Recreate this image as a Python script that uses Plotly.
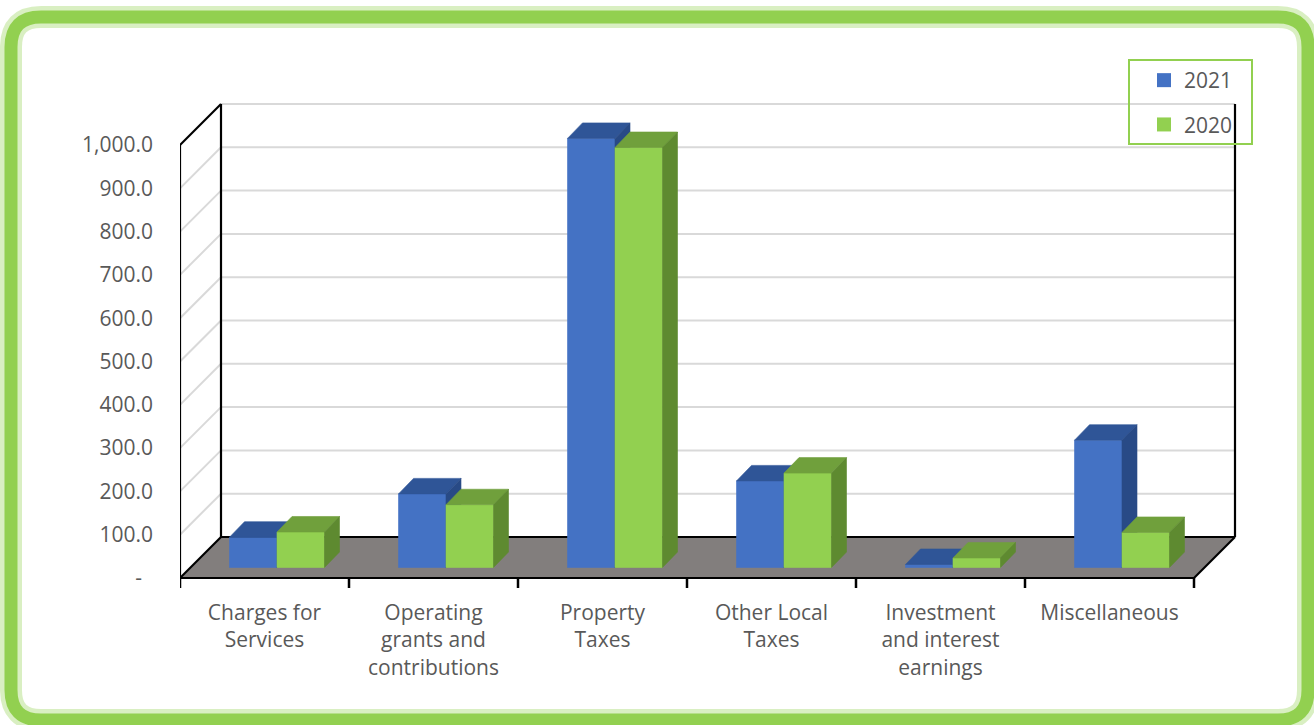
import plotly.graph_objects as go

# ---------------- data ----------------
categories = ["Charges for Services", "Operating grants and contributions", "Property Taxes",
              "Other Local Taxes", "Investment and interest earnings", "Miscellaneous"]
category_labels = ["Charges for<br>Services", "Operating<br>grants and<br>contributions", "Property<br>Taxes",
                   "Other Local<br>Taxes", "Investment<br>and interest<br>earnings", "Miscellaneous"]
series_names = ["2021", "2020"]
values_2021 = [70, 170, 991, 200, 7, 294]
values_2020 = [82, 145, 970, 218, 22, 81]
y_tick_values = [0, 100, 200, 300, 400, 500, 600, 700, 800, 900, 1000]
y_tick_labels = ["-\u00a0\u00a0", "100.0", "200.0", "300.0", "400.0", "500.0", "600.0",
                 "700.0", "800.0", "900.0", "1,000.0"]

# ---------------- styling / geometry ----------------
W, H = 1314, 725
PL, PR, PT, PB = 180, 1294, 20, 598     # plot area edges (px)
CAT_PX = 169.0                           # px per category
VAL_PX = 0.433                           # px per value unit
ZERO_PX = 578                            # pixel row of value 0 (front)

def dxu(p):
    return p / CAT_PX

def dyu(p):
    return p / VAL_PX

x_range = [-0.5, -0.5 + (PR - PL) / CAT_PX]
y_range = [-(PB - ZERO_PX) / VAL_PX, (ZERO_PX - PT) / VAL_PX]

WALL_X, WALL_Y = dxu(41), dyu(41)
BF_X, BF_Y = dxu(12.5), dyu(10.5)
BD_X, BD_Y = dxu(15), dyu(15.5)
BAR_W = 47.5 / CAT_PX
N = len(categories)
VMAX = y_tick_values[-1]

TXT = "#595959"
FONT = "Open Sans"
FS = 21
colors = {
    "2021": {"front": "#4472c4", "top": "#2f5597", "side": "#284a86"},
    "2020": {"front": "#92d050", "top": "#70a03c", "side": "#5e8a30"},
}
series_values = {"2021": values_2021, "2020": values_2020}

fig = go.Figure()

def lines_trace(segs, color, width):
    xs, ys = [], []
    for (x0, y0), (x1, y1) in segs:
        xs += [x0, x1, None]
        ys += [y0, y1, None]
    return go.Scatter(x=xs, y=ys, mode="lines", line=dict(color=color, width=width),
                      hoverinfo="skip", showlegend=False)

def poly_trace(polys, color, edge=None):
    xs, ys = [], []
    for p in polys:
        for (x, y) in p:
            xs.append(x)
            ys.append(y)
        xs.append(p[0][0]); ys.append(p[0][1])
        xs.append(None); ys.append(None)
    return go.Scatter(x=xs, y=ys, mode="lines", fill="toself", fillcolor=color,
                      line=dict(color=edge or color, width=0.6),
                      hoverinfo="skip", showlegend=False)

xl0, xr0 = -0.5, N - 0.5
# back wall gridlines
grid_back = [((xl0 + WALL_X, v + WALL_Y), (xr0 + WALL_X, v + WALL_Y)) for v in y_tick_values[1:]]
grid_side = [((xl0, v), (xl0 + WALL_X, v + WALL_Y)) for v in y_tick_values[1:-1]]
fig.add_trace(lines_trace(grid_back, "#d9d9d9", 2))
fig.add_trace(lines_trace(grid_side, "#d9d9d9", 2))

# floor
floor = [(xl0, 0), (xr0, 0), (xr0 + WALL_X, WALL_Y), (xl0 + WALL_X, WALL_Y)]
fig.add_trace(poly_trace([floor], "#827e7d"))

# black frame edges
edges = [
    ((xl0, 0), (xl0, VMAX)),
    ((xl0, VMAX), (xl0 + WALL_X, VMAX + WALL_Y)),
    ((xl0 + WALL_X, WALL_Y), (xl0 + WALL_X, VMAX + WALL_Y)),
    ((xl0, 0), (xl0 + WALL_X, WALL_Y)),
    ((xl0 + WALL_X, WALL_Y), (xr0 + WALL_X, WALL_Y)),
    ((xr0 + WALL_X, WALL_Y), (xr0 + WALL_X, VMAX + WALL_Y)),
    ((xr0, 0), (xr0 + WALL_X, WALL_Y)),
    ((xl0, 0), (xr0, 0)),
]
fig.add_trace(lines_trace(edges, "black", 2.2))
# category boundary tick marks
ticks = [((b - 0.5, 0), (b - 0.5, -dyu(10))) for b in range(N + 1)]
fig.add_trace(lines_trace(ticks, "black", 2.5))

# bars (front, top, side faces)
for s, name in enumerate(series_names):
    vals = series_values[name]
    fronts, tops, sides = [], [], []
    for i, v in enumerate(vals):
        xl = i - BAR_W + s * BAR_W + BF_X
        xr = xl + BAR_W
        yb, yt = BF_Y, BF_Y + v
        fronts.append([(xl, yb), (xr, yb), (xr, yt), (xl, yt)])
        tops.append([(xl, yt), (xr, yt), (xr + BD_X, yt + BD_Y), (xl + BD_X, yt + BD_Y)])
        sides.append([(xr, yb), (xr + BD_X, yb + BD_Y), (xr + BD_X, yt + BD_Y), (xr, yt)])
    c = colors[name]
    fig.add_trace(poly_trace(fronts, c["front"]))
    fig.add_trace(poly_trace(tops, c["top"]))
    fig.add_trace(poly_trace(sides, c["side"]))

# legend entries
for name in series_names:
    fig.add_trace(go.Scatter(x=[None], y=[None], mode="markers", name=name, legendgroup=name,
                             marker=dict(symbol="square", size=14, color=colors[name]["front"]),
                             hoverinfo="skip"))

def xp(p):
    return (p - PL) / (PR - PL)

def yp(p):
    return (PB - p) / (PB - PT)

def rounded_rect(x0, y0, x1, y1, r):
    pts = [
        ("M", [(x0 + r, y0)]), ("L", [(x1 - r, y0)]), ("Q", [(x1, y0), (x1, y0 + r)]),
        ("L", [(x1, y1 - r)]), ("Q", [(x1, y1), (x1 - r, y1)]), ("L", [(x0 + r, y1)]),
        ("Q", [(x0, y1), (x0, y1 - r)]), ("L", [(x0, y0 + r)]), ("Q", [(x0, y0), (x0 + r, y0)]),
    ]
    out = ""
    for cmd, ps in pts:
        out += cmd + " ".join(f"{xp(a):.5f},{yp(b):.5f}" for a, b in ps) + " "
    return out + "Z"

frame_path = rounded_rect(11, 17, 1308, 720, 30)
shapes = [
    dict(type="path", xref="paper", yref="paper", path=frame_path, layer="below",
         line=dict(color="rgba(146,208,80,0.35)", width=22)),
    dict(type="path", xref="paper", yref="paper", path=frame_path, layer="below",
         line=dict(color="#92d050", width=13)),
    dict(type="rect", xref="paper", yref="paper", x0=xp(1129), x1=xp(1252), y0=yp(60), y1=yp(144),
         line=dict(color="#92d050", width=2)),
]

fig.update_layout(
    width=W, height=H,
    margin=dict(l=PL, r=W - PR, t=PT, b=H - PB, autoexpand=False),
    paper_bgcolor="white", plot_bgcolor="rgba(0,0,0,0)",
    font=dict(family=FONT, color=TXT, size=FS),
    shapes=shapes,
    showlegend=True,
    legend=dict(x=xp(1144), y=yp(60), xanchor="left", yanchor="top",
                bgcolor="rgba(0,0,0,0)", borderwidth=0,
                font=dict(family=FONT, size=FS, color=TXT),
                traceorder="grouped", tracegroupgap=14),
    xaxis=dict(range=x_range, tickmode="array", tickvals=list(range(N)), ticktext=category_labels,
               showgrid=False, zeroline=False, showline=False, ticks="",
               tickfont=dict(family=FONT, size=FS, color=TXT)),
    yaxis=dict(range=y_range, tickmode="array", tickvals=y_tick_values, ticktext=y_tick_labels,
               showgrid=False, zeroline=False, showline=False, ticks="", ticklabelstandoff=26,
               tickfont=dict(family=FONT, size=FS, color=TXT)),
)

fig.write_html("out.html", config={"displayModeBar": False},
               post_script="document.body.style.margin='0px';")
